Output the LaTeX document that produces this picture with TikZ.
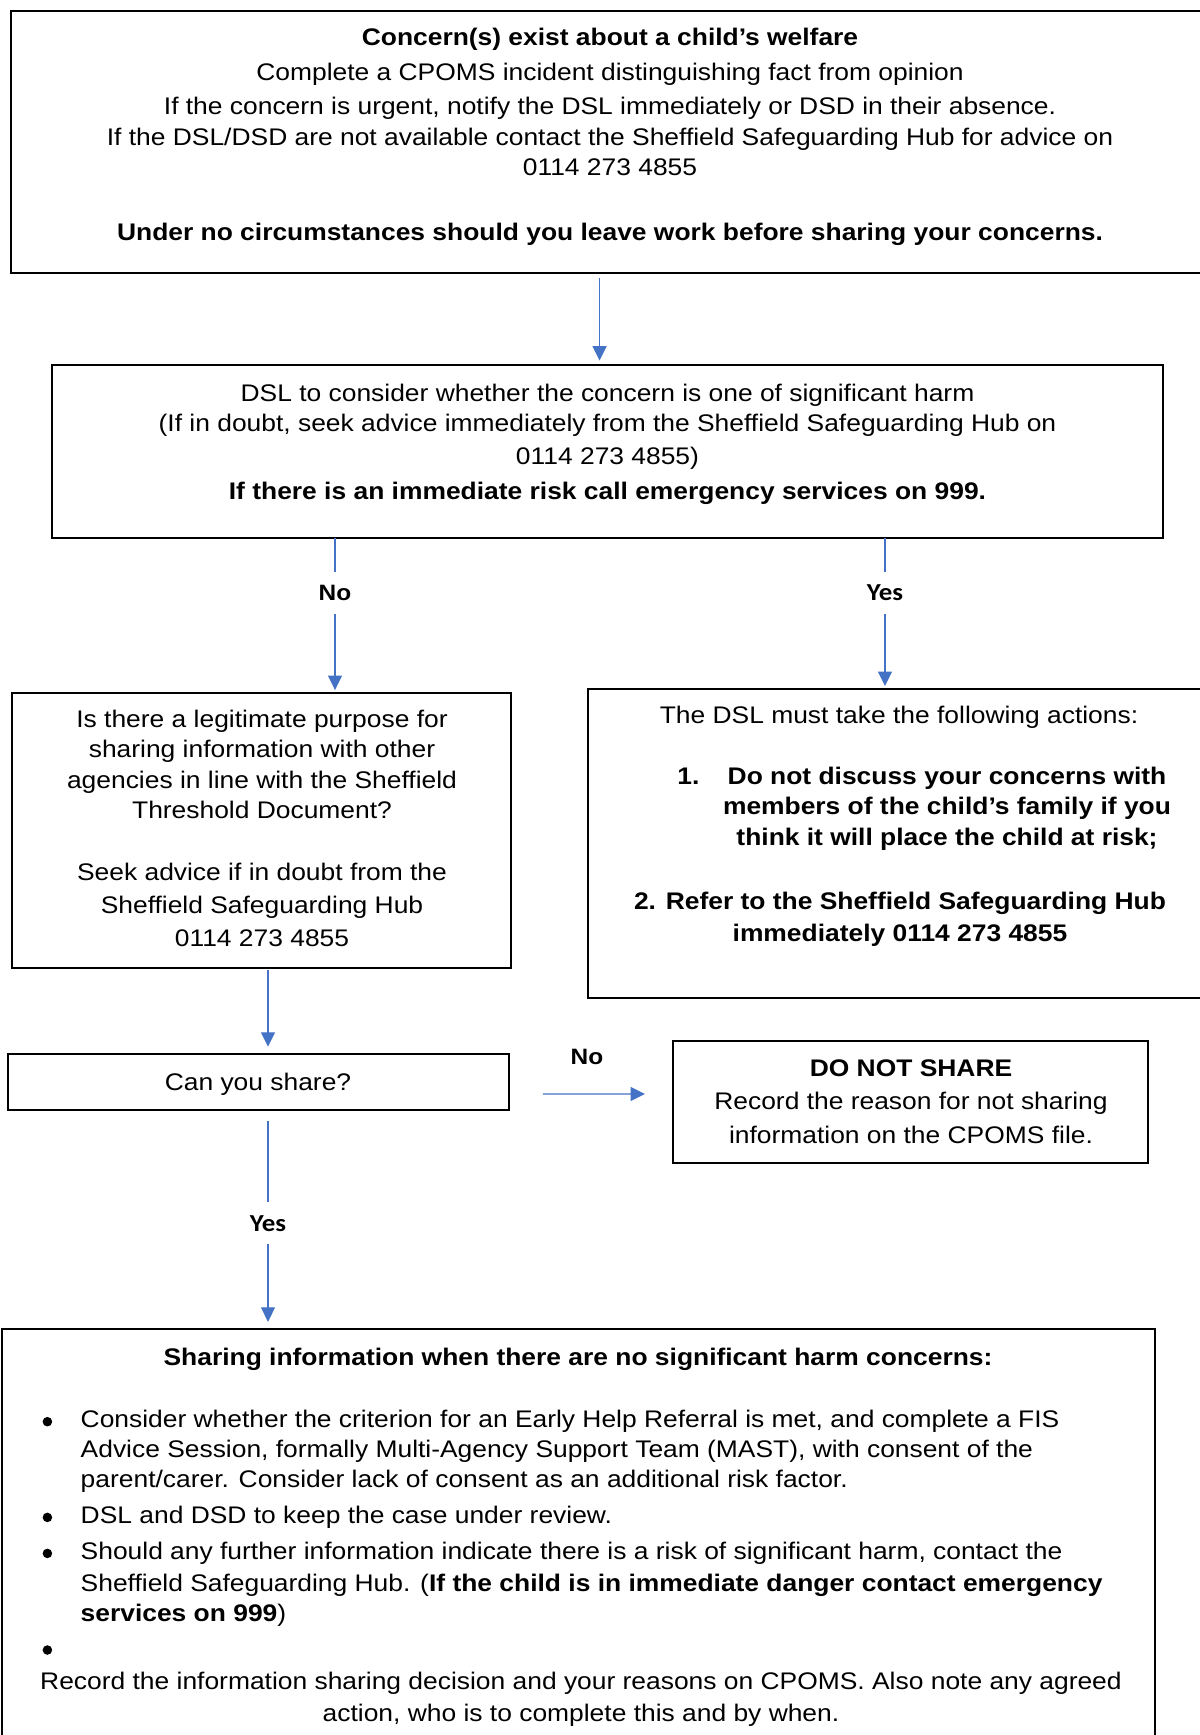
\documentclass[tikz,border=0pt]{standalone}
\usepackage{fontspec}
\setmainfont[FakeStretch=1.1]{Liberation Sans}
\newfontfamily\yesfont[FakeStretch=1.1]{Carlito}
\usetikzlibrary{arrows.meta}
\definecolor{flowblue}{HTML}{4472C4}

\begin{document}
\begin{tikzpicture}[x=0.45pt, y=-0.45pt,
    frame/.style={draw=black, line width=0.9pt, inner sep=0pt, outer sep=0pt},
    txt/.style={align=center, inner sep=0pt, anchor=base, font=\fontsize{10.8}{13.6}\selectfont},
    dot/.style={circle, fill=black, inner sep=0pt, minimum size=4.3pt},
    link/.style={draw=flowblue, line width=0.55pt},
    arrow/.style={link, -{Triangle[length=6.5pt, width=6.3pt]}},
    nolab/.style={inner sep=0pt, minimum height=18.5pt, font=\fontsize{10}{12}\selectfont\bfseries},
    yeslab/.style={inner sep=0pt, minimum height=18.5pt, font=\yesfont\fontsize{11}{13}\selectfont\bfseries}]
    \useasboundingbox (0,0) rectangle (1200,1735);
    \clip (0,0) rectangle (1200,1735);

    % boxes
    \node[frame, minimum width=538.65pt, minimum height=118pt] (concern) at (610,142.2) {};
    \node[frame, minimum width=499.95pt, minimum height=78pt] (dsl) at (607.5,451.7) {};
    \node[frame, minimum width=224.8pt, minimum height=123.75pt] (purpose) at (261.3,830.2) {};
    \node[frame, minimum width=280.1pt, minimum height=138.8pt] (actions) at (898.8,843.5) {};
    \node[frame, minimum width=225.5pt, minimum height=25.1pt] (share) at (258.3,1082.2) {};
    \node[frame, minimum width=213.4pt, minimum height=55pt] (noshare) at (910.5,1102.2) {};
    \node[frame, minimum width=518.9pt, minimum height=193.8pt] (info) at (578.8,1544.7) {};

    % texts (base = last line)
    \node[txt] (concerntxt) at (610,240.7) {\textbf{Concern(s) exist about a child’s welfare}\\[2.1pt]
        Complete a CPOMS incident distinguishing fact from opinion\\[1.8pt]
        If the concern is urgent, notify the DSL immediately or DSD in their absence.\\[0.5pt]
        If the DSL/DSD are not available contact the Sheffield Safeguarding Hub for advice on\\
        0114 273 4855\\[15.6pt]
        \textbf{Under no circumstances should you leave work before sharing your concerns.}};
    \node[txt] (dsltxt) at (607.5,499.3) {DSL to consider whether the concern is one of significant harm\\[0.2pt]
        (If in doubt, seek advice immediately from the Sheffield Safeguarding Hub on\\[1.1pt]
        0114 273 4855)\\[2.1pt]
        \textbf{If there is an immediate risk call emergency services on 999.}};
    \node[txt] (purposetxt) at (262,946.7) {Is there a legitimate purpose for\\
        sharing information with other\\[0.2pt]
        agencies in line with the Sheffield\\
        Threshold Document?\\[14.2pt]
        Seek advice if in doubt from the\\[1.4pt]
        Sheffield Safeguarding Hub\\[1.4pt]
        0114 273 4855};
    \node[txt] (actionstxt) at (899,723.3) {The DSL must take the following actions:};
    \node[txt, anchor=base west] (num1) at (677,784.3) {\textbf{1.}};
    \node[txt] (act1) at (947,845) {\textbf{Do not discuss your concerns with}\\[0.2pt]
        \textbf{members of the child’s family if you}\\
        \textbf{think it will place the child at risk;}};
    \node[txt] (act2) at (900,941.7) {\textbf{2. Refer to the Sheffield Safeguarding Hub}\\[0.7pt]
        \textbf{immediately 0114 273 4855}};
    \node[txt] (sharetxt) at (258,1090.7) {Can you share?};
    \node[txt] (nosharetxt) at (911,1143.3) {\textbf{DO NOT SHARE}\\[1.4pt]
        Record the reason for not sharing\\[1.4pt]
        information on the CPOMS file.};
    \node[txt] (infotitle) at (578,1365) {\textbf{Sharing information when there are no significant harm concerns:}};
    \node[txt, anchor=base west, align=left] (infolist) at (80.3,1621.7) {Consider whether the criterion for an Early Help Referral is met, and complete a FIS\\
        Advice Session, formally Multi-Agency Support Team (MAST), with consent of the\\
        parent/carer. Consider lack of consent as an additional risk factor.\\[2.5pt]
        DSL and DSD to keep the case under review.\\[2.6pt]
        Should any further information indicate there is a risk of significant harm, contact the\\[0.7pt]
        Sheffield Safeguarding Hub. (\textbf{If the child is in immediate danger contact emergency}\\
        \textbf{services on 999})};
    \foreach \y [count=\i] in {1421.7,1517.4,1553.4,1650}
        \node[dot] (bullet\i) at (47.4,\y) {};
    \node[txt] (recordtxt) at (581,1721.7) {Record the information sharing decision and your reasons on CPOMS. Also note any agreed\\[0.7pt]
        action, who is to complete this and by when.};

    % labels
    \node[nolab] (no1) at (335,592.8) {No};
    \node[yeslab] (yes1) at (885,592.8) {Yes};
    \node[yeslab] (yes2) at (268,1223.3) {Yes};
    \node[nolab] (no2) at (587,1057.3) {No};

    % connectors
    \draw[arrow, shorten <=2.2pt, shorten >=2pt] ([xshift=-4.7pt]concern.south) -- ([xshift=-4.7pt]concern.south |- dsl.north);
    \draw[link] (dsl.south -| no1) -- (no1.north);
    \draw[arrow, shorten >=1.2pt] (no1.south) -- (no1.south |- purpose.north);
    \draw[link] (dsl.south -| yes1) -- (yes1.north);
    \draw[arrow, shorten >=1.5pt] (yes1.south) -- (yes1.south |- actions.north);
    \draw[arrow, shorten <=1pt, shorten >=3.4pt] (purpose.south -| yes2) -- (share.north -| yes2);
    \draw[arrow] ([xshift=15.3pt,yshift=-5.3pt]share.east) -- ([xshift=-12.8pt,yshift=3.7pt]noshare.west);
    \draw[link, shorten <=5pt] (share.south -| yes2) -- (yes2.north);
    \draw[arrow, shorten >=3.4pt] (yes2.south) -- (yes2.south |- info.north);
\end{tikzpicture}
\end{document}
